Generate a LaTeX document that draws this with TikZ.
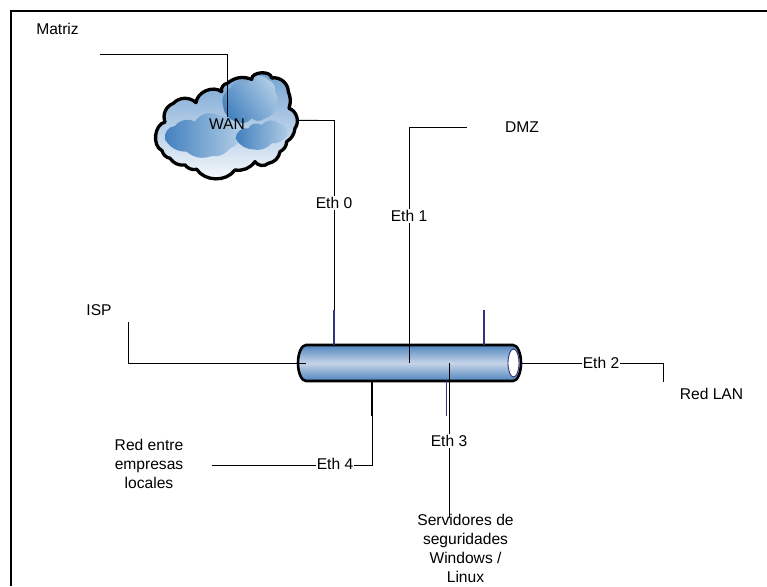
\documentclass[tikz,border=0pt]{standalone}
\usepackage{fontspec}
\setmainfont{Liberation Sans}
\definecolor{cloudtop}{RGB}{112,160,208}
\definecolor{cloudbot}{RGB}{246,249,252}
\definecolor{blobdark}{RGB}{66,128,190}
\definecolor{bloblite}{RGB}{176,204,230}
\definecolor{tubedark}{RGB}{78,132,190}
\definecolor{tubelite}{RGB}{198,212,232}
\definecolor{stubblue}{RGB}{50,50,125}
\begin{document}
\begin{tikzpicture}[x=1pt,y=-1pt,
  lbl/.style={font=\fontsize{15.6}{19}\selectfont,inner sep=0pt,align=center},
  eth/.style={lbl,fill=white,inner xsep=1pt,inner ysep=1pt},
  conn/.style={draw=black,line width=0.85pt},
  stub/.style={draw=stubblue,line width=1.1pt},
  tube/.style={line width=2.6pt,draw=black}]
\useasboundingbox (0,0) rectangle (767,586);
\fill[white] (0,0) rectangle (767,586);
\draw[line width=1.6pt] (11,586) -- (11,11) -- (767,11);

% cloud
\begin{scope}[xshift=140pt,yshift=-50pt,x=0.3333pt,y=-0.3333pt]
\def\cloudpath{(66,302) to[bend left=70] (75,216) to[bend left=45] (100,160) to[bend left=45] (168,158) to[bend left=60] (245,125) to[bend left=50] (262,100) to[bend left=30] (335,88) to[bend left=90] (395,84) to[bend left=50] (445,125) to[bend left=20] (447,175) to[bend left=55] (465,235) to[bend left=25] (440,275) to[bend left=30] (420,305) to[bend left=35] (385,340) to[bend left=50] (345,335) to[bend left=30] (285,360) to[bend left=55] (170,358) to[bend left=30] (135,345) to[bend left=30] (90,325) to[bend left=30] cycle}
\begin{scope}
\clip \cloudpath;
\shade[top color=cloudtop,bottom color=cloudbot] (40,60) rectangle (475,390);
\shade[left color=blobdark,right color=bloblite] (75,268) to[bend left=50] (105,228) to[bend left=40] (165,215) to[bend left=45] (240,198) to[bend left=50] (280,225) to[bend left=30] (300,255) to[bend left=40] (270,295) to[bend left=30] (215,318) to[bend left=30] (140,305) to[bend left=30] cycle;
\shade[left color=blobdark,right color=bloblite,shading angle=125] (250,170) to[bend left=40] (270,115) to[bend left=40] (320,100) to[bend left=60] (385,90) to[bend left=40] (405,125) to[bend left=30] (408,170) to[bend left=30] (375,205) to[bend left=40] (335,205) to[bend left=40] (290,215) to[bend left=35] cycle;
\shade[left color=blobdark,right color=bloblite] (287,265) to[bend left=50] (325,235) to[bend left=50] (365,225) to[bend left=50] (420,222) to[bend left=50] (442,255) to[bend left=30] (395,280) to[bend left=30] (340,298) to[bend left=30] cycle;
\end{scope}
\draw[line width=3.3pt,black,line join=round] \cloudpath;
\coordinate (cloudright) at (472,211);
\end{scope}

% tube
\def\tubepath{(306,345) -- (513,345) arc[start angle=-90,end angle=90,x radius=8,y radius=18] -- (306,381) arc[start angle=90,end angle=270,x radius=8,y radius=18] -- cycle}
\shade[top color=tubedark,bottom color=tubedark,middle color=tubelite] \tubepath;
\draw[tube] \tubepath;
\draw[draw=stubblue,fill=white,line width=0.9pt] (513.5,363) ellipse[x radius=5.5,y radius=14];
\coordinate (tube) at (409.5,363);

% labels
\node[lbl] (matriz) at (57.5,29) {Matriz};
\node[lbl] (wan) at (227,124.5) {WAN};
\node[lbl] (dmz) at (522,127) {DMZ};
\node[lbl] (isp) at (99,310) {ISP};
\node[lbl] (lan) at (711.5,394) {Red LAN};
\node[lbl] (redemp) at (149,464) {Red entre\\empresas\\locales};
\node[lbl] (serv) at (465.5,548.5) {Servidores de\\seguridades\\Windows /\\Linux};

% coordinates of the connector ends
\coordinate (m0) at (100,54.5);
\coordinate (d0) at (467,127.5);
\coordinate (i0) at (128.5,322);
\coordinate (t0) at (306,363.5);
\coordinate (te) at (522,363.5);
\coordinate (l0) at (663.5,382);
\coordinate (e4) at (372.5,382);
\coordinate (r0) at (212,465.5);
\coordinate (s0) at (449,518);
\coordinate (t3) at (449,363);

% stubs
\draw[stub] (334,310) -- (334,345);
\draw[stub] (484,310) -- (484,345);
\draw[stub] (446.5,381) -- (446.5,416);
\draw[conn,line width=1.2pt] (372,381) -- (372,416);

% connectors
\draw[conn] (m0) -- (227.5,54.5) -- (227.5,117);
\draw[conn] (cloudright) -- (334.5,120.5) -- (334.5,310);
\draw[conn] (d0) -- (409.5,127.5) -- (tube);
\draw[conn] (i0) -- (128.5,363.5) -- (t0);
\draw[conn] (te) -- (663.5,363.5) -- (l0);
\draw[conn] (e4) -- (372.5,465.5) -- (r0);
\draw[conn] (t3) -- (s0);

\node[eth] (eth0) at (334,203) {Eth 0};
\node[eth] (eth1) at (409,216) {Eth 1};
\node[eth] (eth2) at (601,363) {Eth 2};
\node[eth] (eth3) at (449,441) {Eth 3};
\node[eth] (eth4) at (335,464) {Eth 4};
\end{tikzpicture}
\end{document}
